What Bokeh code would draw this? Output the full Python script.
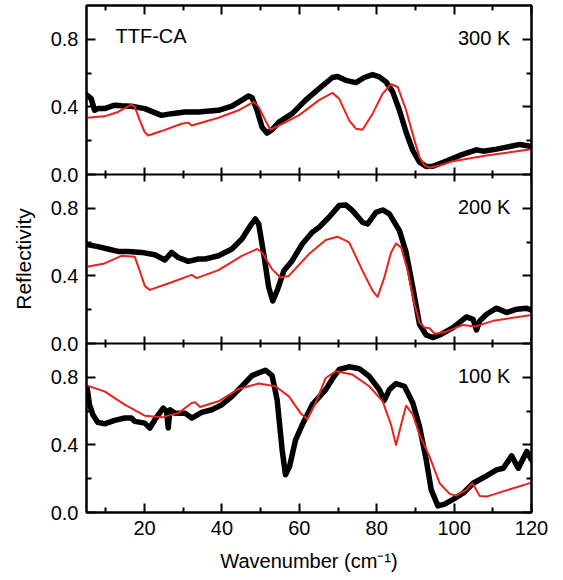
from bokeh.plotting import figure
from bokeh.models import Range1d, LinearAxis, FixedTicker, Label, ColumnDataSource, PrintfTickFormatter
from bokeh.transform import dodge
from bokeh.embed import file_html
from bokeh.resources import INLINE

# ---------------- data ----------------
x_ticks = [20, 40, 60, 80, 100, 120]
x_minor = [10, 30, 50, 70, 90, 110]
y_ticks = [0.0, 0.4, 0.8]
y_minor = [0.2, 0.6]
y_tick_labels = ["0.0", "0.4", "0.8"]

# 300 K
x300_exp = [5.17, 6.21, 7.08, 7.94, 9.67, 12.27, 14.0, 16.6, 20.06, 24.39, 26.99, 30.45, 33.92, 39.11,
            42.58, 45.17, 46.9, 47.77, 49.07, 50.37, 51.67, 52.96, 54.7, 58.16, 61.62, 65.09, 68.55,
            69.85, 72.01, 74.61, 76.78, 78.94, 80.67, 82.4, 84.13, 85.87, 87.6, 89.33, 91.06, 92.79,
            94.52, 97.99, 101.45, 105.78, 107.51, 110.97, 113.57, 117.04, 120.0]
r300_exp = [0.469, 0.449, 0.38, 0.39, 0.39, 0.41, 0.407, 0.404, 0.39, 0.35, 0.36, 0.37, 0.37, 0.38,
            0.404, 0.44, 0.465, 0.455, 0.38, 0.28, 0.245, 0.265, 0.31, 0.36, 0.44, 0.508, 0.574,
            0.58, 0.557, 0.544, 0.574, 0.591, 0.578, 0.548, 0.489, 0.38, 0.25, 0.142, 0.073, 0.047,
            0.049, 0.079, 0.113, 0.146, 0.138, 0.15, 0.162, 0.178, 0.166]
x300_fit = [5.17, 9.67, 13.14, 16.6, 17.47, 18.77, 20.06, 20.93, 24.39, 29.59, 31.32, 32.19, 39.11,
            44.31, 48.2, 49.5, 51.23, 52.53, 54.7, 59.89, 65.09, 68.55, 70.28, 72.88, 74.61, 76.34,
            78.94, 81.54, 83.7, 85.43, 87.6, 89.76, 91.06, 92.36, 93.66, 96.26, 99.72, 108.38, 120.0]
r300_fit = [0.336, 0.344, 0.37, 0.413, 0.40, 0.32, 0.25, 0.231, 0.257, 0.30, 0.307, 0.29, 0.336,
            0.38, 0.43, 0.40, 0.32, 0.265, 0.29, 0.35, 0.44, 0.483, 0.449, 0.32, 0.271, 0.265,
            0.36, 0.479, 0.534, 0.518, 0.38, 0.202, 0.103, 0.053, 0.04, 0.053, 0.079, 0.113, 0.15]

# 200 K
x200_exp = [5.17, 7.94, 10.54, 13.14, 15.74, 19.2, 22.66, 25.26, 26.99, 28.72, 31.32, 33.92, 35.65,
            39.11, 42.58, 45.17, 47.34, 48.64, 49.5, 50.8, 52.1, 53.14, 54.26, 56.0, 58.16, 60.76,
            63.35, 65.09, 67.68, 70.28, 72.01, 73.74, 76.34, 77.64, 79.8, 81.54, 83.27, 85.87, 87.6,
            89.33, 91.06, 92.79, 94.52, 96.26, 99.72, 103.18, 104.91, 105.78, 106.64, 108.38, 110.97,
            113.57, 116.17, 118.77, 120.0]
r200_exp = [0.585, 0.573, 0.559, 0.545, 0.545, 0.539, 0.525, 0.494, 0.539, 0.509, 0.486, 0.50, 0.50,
            0.519, 0.559, 0.618, 0.697, 0.737, 0.707, 0.529, 0.331, 0.252, 0.312, 0.43, 0.49, 0.589,
            0.658, 0.687, 0.747, 0.816, 0.82, 0.786, 0.717, 0.707, 0.776, 0.79, 0.767, 0.668, 0.539,
            0.331, 0.114, 0.05, 0.035, 0.05, 0.094, 0.157, 0.143, 0.08, 0.134, 0.173, 0.209,
            0.183, 0.203, 0.209, 0.197]
x200_fit = [5.17, 9.67, 14.0, 17.47, 18.77, 20.06, 21.36, 26.13, 32.19, 33.48, 39.11, 45.17, 49.07,
            50.37, 52.96, 55.13, 57.29, 62.49, 66.82, 69.85, 72.88, 76.34, 78.94, 80.24, 81.97, 83.7,
            85.0, 86.3, 88.03, 89.76, 91.06, 92.36, 93.66, 94.96, 97.99, 102.32, 105.35, 110.11, 120.0]
r200_fit = [0.454, 0.474, 0.519, 0.513, 0.43, 0.341, 0.317, 0.355, 0.406, 0.387, 0.434, 0.519, 0.559,
            0.539, 0.44, 0.391, 0.40, 0.529, 0.612, 0.632, 0.598, 0.43, 0.312, 0.276, 0.391, 0.539,
            0.592, 0.569, 0.43, 0.232, 0.124, 0.094, 0.09, 0.058, 0.07, 0.11, 0.10, 0.134, 0.169]

# 100 K
x100_exp = [5.17, 5.78, 6.64, 7.94, 9.67, 12.27, 14.87, 16.6, 17.47, 20.06, 21.36, 22.66, 24.83, 25.69,
            26.13, 26.56, 27.86, 30.45, 32.19, 34.78, 37.38, 39.98, 42.58, 45.17, 47.77, 51.23, 52.96,
            54.26, 55.56, 56.43, 57.47, 59.03, 60.76, 63.35, 66.82, 68.98, 70.28, 72.88, 75.48, 78.07,
            80.67, 81.97, 83.27, 85.0, 87.16, 89.33, 91.06, 92.79, 94.09, 95.82, 97.55, 99.72, 102.32,
            104.91, 108.38, 110.97, 112.7, 114.87, 116.6, 118.77, 120.0]
r100_exp = [0.736, 0.638, 0.579, 0.533, 0.525, 0.545, 0.559, 0.559, 0.539, 0.529, 0.50, 0.549, 0.618, 0.598,
            0.50, 0.608, 0.588, 0.588, 0.559, 0.592, 0.608, 0.638, 0.687, 0.747, 0.81, 0.842, 0.81,
            0.668, 0.371, 0.223, 0.272, 0.43, 0.519, 0.638, 0.727, 0.806, 0.846, 0.862, 0.851, 0.806,
            0.727, 0.664, 0.727, 0.763, 0.747, 0.648, 0.509, 0.312, 0.134, 0.039, 0.05, 0.078, 0.114,
            0.173, 0.217, 0.252, 0.262, 0.335, 0.262, 0.361, 0.312]
x100_fit = [5.17, 9.67, 14.87, 20.06, 24.39, 28.72, 32.19, 33.05, 34.35, 39.11, 44.31, 49.5, 53.83,
            57.29, 60.32, 62.06, 64.22, 66.82, 69.41, 73.74, 78.07, 81.54, 83.7, 85.0, 86.3, 87.6,
            89.33, 91.06, 93.66, 96.26, 98.85, 100.58, 103.18, 104.74, 106.64, 108.38, 120.0]
r100_fit = [0.751, 0.717, 0.638, 0.573, 0.563, 0.588, 0.648, 0.652, 0.624, 0.658, 0.731, 0.763, 0.747,
            0.687, 0.588, 0.553, 0.648, 0.796, 0.836, 0.816, 0.747, 0.658, 0.519, 0.40, 0.519, 0.632,
            0.579, 0.46, 0.331, 0.173, 0.11, 0.10, 0.134, 0.173, 0.098, 0.094, 0.177]

temps = ["300 K", "200 K", "100 K"]
sample = "TTF-CA"

# ---------------- layout / styling ----------------
FONT = "Liberation Sans"
FS = "20px"
RED = "#e8231d"
panel_offsets = [2.0, 1.0, 0.0]   # stacking of the three panels on one shared y scale

p = figure(width=563, height=580, x_range=Range1d(5, 120), y_range=Range1d(0, 3),
           output_backend="svg", toolbar_location=None,
           x_axis_type=None, y_axis_type=None,
           min_border_left=86, min_border_right=32, min_border_top=5, min_border_bottom=68)
p.grid.visible = False
p.outline_line_color = "black"
p.outline_line_width = 2
p.background_fill_color = "white"
p.border_fill_color = "white"

all_y_ticks = [t + off for off in panel_offsets[::-1] for t in y_ticks]
all_y_minor = [t + off for off in panel_offsets[::-1] for t in y_minor]
y_overrides = {t + off: lab for off in panel_offsets for t, lab in zip(y_ticks, y_tick_labels)}


def base_style(ax):
    ax.axis_line_width = 2
    ax.axis_line_color = "black"
    ax.major_tick_line_width = 2
    ax.minor_tick_line_width = 2
    ax.major_tick_line_color = "black"
    ax.minor_tick_line_color = "black"
    ax.major_tick_in = 9
    ax.major_tick_out = 0
    ax.minor_tick_in = 5
    ax.minor_tick_out = 0


def no_labels(ax):
    ax.major_label_text_color = None
    ax.major_label_text_font_size = "0px"
    ax.major_label_standoff = 0


# left axis (labelled)
left = LinearAxis(ticker=FixedTicker(ticks=all_y_ticks, minor_ticks=all_y_minor),
                  formatter=PrintfTickFormatter(format="%.1f"))
base_style(left)
left.major_label_overrides = y_overrides
left.major_label_text_font = FONT
left.major_label_text_font_size = FS
left.major_label_text_color = "black"
left.major_label_standoff = 8
left.axis_label = "Reflectivity"
left.axis_label_text_font = FONT
left.axis_label_text_font_size = "21px"
left.axis_label_text_font_style = "normal"
left.axis_label_text_color = "black"
left.axis_label_standoff = 13
p.add_layout(left, "left")

# right axis
right = LinearAxis(ticker=FixedTicker(ticks=all_y_ticks, minor_ticks=all_y_minor))
base_style(right)
no_labels(right)
p.add_layout(right, "right")

# top axis
above = LinearAxis(ticker=FixedTicker(ticks=x_ticks, minor_ticks=x_minor))
base_style(above)
no_labels(above)
p.add_layout(above, "above")

# bottom axis (labelled)
below = LinearAxis(ticker=FixedTicker(ticks=x_ticks, minor_ticks=x_minor))
base_style(below)
below.major_label_text_font = FONT
below.major_label_text_font_size = FS
below.major_label_text_color = "black"
below.major_label_standoff = 8
below.axis_label = "Wavenumber (cm\u207b\u00b9)"
below.axis_label_text_font = FONT
below.axis_label_text_font_size = FS
below.axis_label_text_font_style = "normal"
below.axis_label_text_color = "black"
below.axis_label_standoff = 12
p.add_layout(below, "below")

# panel boundaries with ticks on both sides
for off in panel_offsets[:2]:
    b = LinearAxis(ticker=FixedTicker(ticks=x_ticks, minor_ticks=x_minor), fixed_location=off)
    base_style(b)
    b.major_tick_in = 7
    b.major_tick_out = 7
    b.minor_tick_in = 4
    b.minor_tick_out = 4
    no_labels(b)
    p.add_layout(b, "below")

series = [(x300_exp, r300_exp, x300_fit, r300_fit),
          (x200_exp, r200_exp, x200_fit, r200_fit),
          (x100_exp, r100_exp, x100_fit, r100_fit)]

for (xe, re_, xf, rf), off, tl in zip(series, panel_offsets, temps):
    se = ColumnDataSource(dict(x=xe, r=re_))
    sf = ColumnDataSource(dict(x=xf, r=rf))
    p.line("x", dodge("r", off), source=se, line_color="black", line_width=5.5,
           line_join="round", line_cap="round")
    p.line("x", dodge("r", off), source=sf, line_color=RED, line_width=2, line_join="round")
    p.add_layout(Label(x=114.5, y=off + 0.805, text=tl, text_align="right",
                       text_baseline="alphabetic", text_font=FONT, text_font_size=FS,
                       text_color="black"))

p.add_layout(Label(x=12.5, y=panel_offsets[0] + 0.82, text=sample, text_align="left",
                   text_baseline="alphabetic", text_font=FONT, text_font_size=FS,
                   text_color="black"))

open("out.html", "w").write(file_html(p, INLINE))
